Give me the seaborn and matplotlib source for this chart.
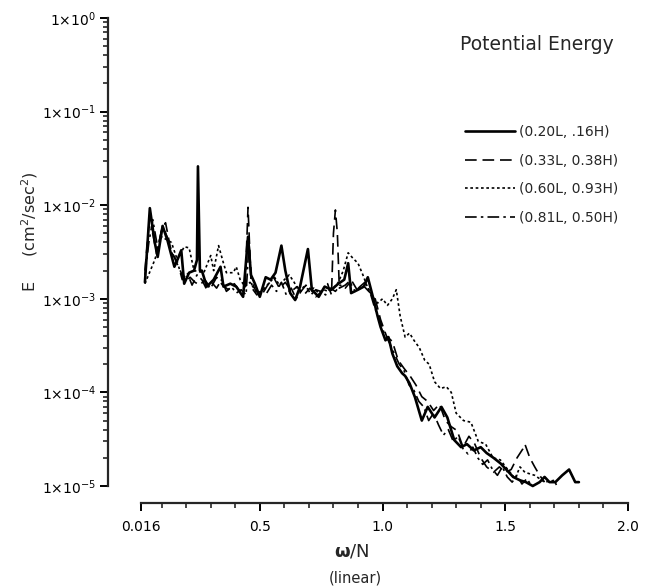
import numpy as np
import pandas as pd
import matplotlib
matplotlib.use("Agg")
import matplotlib.pyplot as plt
import seaborn as sns
from matplotlib.ticker import FixedLocator, NullFormatter, FixedFormatter

# ---- data (omega/N, E in cm^2/sec^2) ----
w_a = [0.032, 0.052, 0.072, 0.084, 0.104, 0.124, 0.152, 0.164, 0.180, 0.192, 0.212, 0.232, 0.244,
       0.248, 0.256, 0.264, 0.284, 0.312, 0.340, 0.352, 0.380, 0.404, 0.432, 0.452, 0.464, 0.480,
       0.500, 0.524, 0.544, 0.564, 0.588, 0.604, 0.624, 0.644, 0.664, 0.696, 0.712, 0.740, 0.764,
       0.792, 0.820, 0.844, 0.860, 0.872, 0.900, 0.924, 0.940, 0.964, 0.980, 0.992, 1.012, 1.024,
       1.040, 1.060, 1.080, 1.092, 1.110, 1.132, 1.160, 1.184, 1.212, 1.240, 1.264, 1.292, 1.320,
       1.344, 1.372, 1.400, 1.424, 1.452, 1.480, 1.504, 1.532, 1.560, 1.584, 1.612, 1.640, 1.660,
       1.680, 1.704, 1.732, 1.760, 1.785, 1.800]
e_a = [1.5e-3, 9.3e-3, 4.0e-3, 2.8e-3, 6.0e-3, 4.2e-3, 2.2e-3, 2.6e-3, 3.3e-3, 1.45e-3, 1.9e-3, 2.0e-3, 2.6e-3,
       2.6e-2, 2.0e-3, 2.0e-3, 1.35e-3, 1.6e-3, 2.2e-3, 1.35e-3, 1.45e-3, 1.35e-3, 1.05e-3, 4.6e-3, 1.8e-3, 1.45e-3,
       1.05e-3, 1.7e-3, 1.6e-3, 1.9e-3, 3.7e-3, 2.0e-3, 1.15e-3, 9.7e-4, 1.35e-3, 3.4e-3, 1.25e-3, 1.05e-3, 1.35e-3,
       1.25e-3, 1.45e-3, 1.6e-3, 2.4e-3, 1.15e-3, 1.25e-3, 1.35e-3, 1.7e-3, 9.7e-4, 6.5e-4, 5.0e-4, 3.6e-4, 3.9e-4,
       2.6e-4, 1.9e-4, 1.6e-4, 1.5e-4, 1.25e-4, 8.9e-5, 5.0e-5, 7.0e-5, 5.4e-5, 7.0e-5, 5.4e-5, 3.1e-5, 2.6e-5,
       2.8e-5, 2.4e-5, 2.6e-5, 2.25e-5, 2.0e-5, 1.75e-5, 1.5e-5, 1.25e-5, 1.15e-5, 1.1e-5, 1.0e-5, 1.1e-5, 1.25e-5,
       1.1e-5, 1.1e-5, 1.3e-5, 1.5e-5, 1.1e-5, 1.1e-5]

w_b = [0.032, 0.048, 0.064, 0.080, 0.100, 0.116, 0.136, 0.156, 0.176, 0.196, 0.216, 0.236, 0.256, 0.276,
       0.300, 0.324, 0.348, 0.372, 0.396, 0.420, 0.440, 0.452, 0.464, 0.484, 0.508, 0.532, 0.556, 0.580,
       0.604, 0.628, 0.652, 0.680, 0.704, 0.728, 0.752, 0.776, 0.792, 0.800, 0.808, 0.816, 0.824, 0.848,
       0.872, 0.896, 0.920, 0.944, 0.968, 0.992, 1.016, 1.040, 1.064, 1.088, 1.112, 1.136, 1.160, 1.184,
       1.208, 1.232, 1.256, 1.280, 1.304, 1.328, 1.352, 1.376, 1.400, 1.424, 1.452, 1.476, 1.500, 1.524,
       1.548, 1.572, 1.580, 1.600, 1.620, 1.640, 1.660]
e_b = [2.0e-3, 6.0e-3, 5.0e-3, 3.0e-3, 5.5e-3, 6.5e-3, 3.5e-3, 2.6e-3, 2.0e-3, 1.5e-3, 1.7e-3, 1.5e-3, 1.4e-3, 1.6e-3,
       1.3e-3, 1.7e-3, 1.4e-3, 1.25e-3, 1.45e-3, 1.2e-3, 1.3e-3, 9.5e-3, 1.6e-3, 1.2e-3, 1.1e-3, 1.4e-3, 1.7e-3, 1.3e-3,
       1.5e-3, 1.2e-3, 1.35e-3, 1.1e-3, 1.3e-3, 1.05e-3, 1.2e-3, 1.45e-3, 1.1e-3, 5.0e-3, 8.9e-3, 5.0e-3, 1.3e-3, 1.4e-3,
       1.6e-3, 1.25e-3, 1.4e-3, 1.2e-3, 1.05e-3, 6.0e-4, 4.0e-4, 3.5e-4, 2.2e-4, 1.8e-4, 1.5e-4, 1.2e-4, 9.0e-5, 8.0e-5,
       6.4e-5, 7.5e-5, 5.0e-5, 4.3e-5, 3.9e-5, 2.6e-5, 3.4e-5, 2.8e-5, 2.0e-5, 1.6e-5, 1.4e-5, 1.6e-5, 1.4e-5, 1.5e-5,
       2.0e-5, 2.5e-5, 2.8e-5, 2.0e-5, 1.6e-5, 1.3e-5, 1.1e-5]

w_c = [0.032, 0.072, 0.100, 0.140, 0.164, 0.192, 0.212, 0.232, 0.272, 0.300, 0.312, 0.332, 0.352, 0.364,
       0.392, 0.404, 0.420, 0.440, 0.460, 0.480, 0.500, 0.520, 0.540, 0.560, 0.580, 0.600, 0.620, 0.640,
       0.660, 0.680, 0.700, 0.720, 0.740, 0.760, 0.780, 0.800, 0.820, 0.840, 0.860, 0.880, 0.900, 0.920,
       0.940, 0.960, 0.980, 1.000, 1.020, 1.040, 1.056, 1.072, 1.092, 1.110, 1.128, 1.150, 1.172, 1.190,
       1.212, 1.236, 1.260, 1.280, 1.300, 1.330, 1.360, 1.390, 1.420, 1.450, 1.480, 1.510, 1.540, 1.560,
       1.580, 1.620, 1.660, 1.700, 1.710]
e_c = [1.45e-3, 2.6e-3, 4.6e-3, 4.0e-3, 2.6e-3, 3.6e-3, 3.5e-3, 2.0e-3, 1.9e-3, 2.9e-3, 2.0e-3, 3.7e-3, 2.4e-3, 1.9e-3,
       1.9e-3, 2.2e-3, 1.6e-3, 1.35e-3, 1.5e-3, 1.25e-3, 1.15e-3, 1.3e-3, 1.5e-3, 1.7e-3, 1.4e-3, 1.6e-3, 1.8e-3, 1.5e-3,
       1.2e-3, 1.35e-3, 1.25e-3, 1.3e-3, 1.15e-3, 1.25e-3, 1.2e-3, 1.3e-3, 1.5e-3, 2.0e-3, 3.1e-3, 2.7e-3, 2.4e-3, 1.8e-3,
       1.3e-3, 1.05e-3, 9.0e-4, 1.0e-3, 8.5e-4, 1.0e-3, 1.25e-3, 6.5e-4, 3.9e-4, 4.3e-4, 3.6e-4, 3.0e-4, 2.2e-4, 2.0e-4,
       1.3e-4, 1.1e-4, 1.15e-4, 1.0e-4, 6.0e-5, 5.0e-5, 4.8e-5, 3.0e-5, 2.8e-5, 2.0e-5, 1.9e-5, 1.5e-5, 1.2e-5, 1.6e-5,
       1.4e-5, 1.3e-5, 1.1e-5, 1.15e-5, 1.0e-5]

w_d = [0.032, 0.048, 0.064, 0.084, 0.104, 0.124, 0.144, 0.164, 0.184, 0.204, 0.224, 0.244, 0.264, 0.284,
       0.304, 0.324, 0.344, 0.364, 0.384, 0.404, 0.424, 0.444, 0.456, 0.468, 0.488, 0.508, 0.528, 0.548,
       0.568, 0.588, 0.608, 0.628, 0.648, 0.668, 0.688, 0.708, 0.728, 0.748, 0.768, 0.788, 0.808, 0.828,
       0.848, 0.868, 0.888, 0.908, 0.928, 0.948, 0.968, 0.988, 1.008, 1.028, 1.048, 1.068, 1.088, 1.108,
       1.128, 1.148, 1.168, 1.188, 1.208, 1.228, 1.248, 1.268, 1.288, 1.308, 1.328, 1.348, 1.368, 1.388,
       1.408, 1.428, 1.448, 1.468, 1.488, 1.508, 1.528, 1.548, 1.568, 1.588, 1.608]
e_d = [1.8e-3, 4.0e-3, 7.0e-3, 3.5e-3, 6.0e-3, 4.5e-3, 3.0e-3, 2.5e-3, 1.6e-3, 1.9e-3, 1.4e-3, 1.8e-3, 1.6e-3, 1.25e-3,
       1.5e-3, 1.3e-3, 1.6e-3, 1.2e-3, 1.35e-3, 1.15e-3, 1.25e-3, 1.1e-3, 4.0e-3, 1.3e-3, 1.1e-3, 1.3e-3, 1.15e-3, 1.4e-3,
       1.2e-3, 1.5e-3, 1.1e-3, 1.3e-3, 1.0e-3, 1.2e-3, 1.4e-3, 1.1e-3, 1.25e-3, 1.2e-3, 1.1e-3, 1.3e-3, 1.2e-3, 1.4e-3,
       1.3e-3, 1.5e-3, 1.2e-3, 1.35e-3, 1.5e-3, 1.2e-3, 8.0e-4, 6.0e-4, 4.2e-4, 3.4e-4, 2.6e-4, 2.0e-4, 1.7e-4, 1.2e-4,
       1.05e-4, 8.0e-5, 7.0e-5, 5.0e-5, 6.0e-5, 4.5e-5, 3.5e-5, 4.0e-5, 3.0e-5, 3.4e-5, 2.5e-5, 2.2e-5, 2.6e-5, 2.0e-5,
       1.7e-5, 1.9e-5, 1.5e-5, 1.3e-5, 1.6e-5, 1.25e-5, 1.1e-5, 1.3e-5, 1.05e-5, 1.2e-5, 1.0e-5]

labels = ["(0.20L, .16H)", "(0.33L, 0.38H)", "(0.60L, 0.93H)", "(0.81L, 0.50H)"]
x_major = [0.016, 0.5, 1.0, 1.5, 2.0]
x_major_labels = ["0.016", "0.5", "1.0", "1.5", "2.0"]
x_minor = [0.1, 0.2, 0.3, 0.4, 0.6, 0.7, 0.8, 0.9, 1.1, 1.2, 1.3, 1.4, 1.6, 1.7, 1.8, 1.9]
y_major = [1e-5, 1e-4, 1e-3, 1e-2, 1e-1, 1e0]
y_major_labels = [r"$1{\times}10^{-5}$", r"$1{\times}10^{-4}$", r"$1{\times}10^{-3}$",
                  r"$1{\times}10^{-2}$", r"$1{\times}10^{-1}$", r"$1{\times}10^{0}$"]

series = [(w_a, e_a), (w_b, e_b), (w_c, e_c), (w_d, e_d)]
styles = [dict(linestyle="-", linewidth=1.9),
          dict(linestyle=(0, (7, 3.5)), linewidth=1.2),
          dict(linestyle=(0, (1.6, 1.6)), linewidth=1.2),
          dict(linestyle=(0, (7, 2.5, 1.5, 2.5)), linewidth=1.2)]

sns.set_style("ticks")
plt.rcParams["font.family"] = ["DejaVu Sans"]
plt.rcParams["mathtext.fontset"] = "dejavusans"

W, H = 646, 588
fig = plt.figure(figsize=(W / 100, H / 100), dpi=100)
fig.patch.set_facecolor("white")
ax_left, ax_right, ax_top, ax_bot = 108, 628, 18, 503
ax = fig.add_axes([ax_left / W, 1 - ax_bot / H, (ax_right - ax_left) / W, (ax_bot - ax_top) / H])

for (w, e), lab, st in zip(series, labels, styles):
    df = pd.DataFrame({"w": w, "E": e})
    sns.lineplot(data=df, x="w", y="E", ax=ax, color="black", label=lab,
                 sort=False, estimator=None, **st)

ax.set_yscale("log")
px_per_unit = (ax_right - 141) / (2.0 - 0.016)
xmin = 0.016 - (141 - ax_left) / px_per_unit
ax.set_xlim(xmin, 2.0)
dec_px = 93.6
ymin_log = -(ax_bot - ax_top) / dec_px
ax.set_ylim(10 ** ymin_log, 1.0)

sns.despine(ax=ax)
ax.spines["left"].set_bounds(1e-5, 1e0)
ax.spines["bottom"].set_bounds(0.016, 2.0)
ax.spines["left"].set_linewidth(1.6)
ax.spines["bottom"].set_linewidth(1.6)

y_minor = [k * 10.0 ** n for n in range(-5, 0) for k in range(2, 10)]
ax.xaxis.set_major_locator(FixedLocator(x_major))
ax.xaxis.set_major_formatter(FixedFormatter(x_major_labels))
ax.xaxis.set_minor_locator(FixedLocator(x_minor))
ax.yaxis.set_major_locator(FixedLocator(y_major))
ax.yaxis.set_major_formatter(FixedFormatter(y_major_labels))
ax.yaxis.set_minor_locator(FixedLocator(y_minor))
ax.yaxis.set_minor_formatter(NullFormatter())
ax.tick_params(axis="both", which="major", direction="out", length=6, width=1.4,
               labelsize=10, colors="black", pad=3)
ax.tick_params(axis="both", which="minor", direction="out", length=3.5, width=1.2)
ax.tick_params(axis="x", which="major", pad=6)
ax.set_xlabel("")
ax.set_ylabel("")

leg = ax.legend(loc="upper left", bbox_to_anchor=(458 / W, 1 - 118 / H),
                bbox_transform=fig.transFigure, frameon=False, fontsize=10,
                handlelength=3.6, handletextpad=0.3, labelspacing=1.05, borderpad=0)

fig.text(537 / W, 1 - 45 / H, "Potential Energy", fontsize=13.5, ha="center", va="center")
fig.text(30 / W, 1 - 232 / H, r"E     (cm$^2$/sec$^2$)", fontsize=11.5, rotation=90,
         ha="center", va="center")
fig.text(352 / W, 1 - 551 / H, r"$\mathbf{\omega}$/N", fontsize=13, ha="center", va="center")
fig.text(355 / W, 1 - 578 / H, "(linear)", fontsize=10.5, ha="center", va="center")

fig.savefig("out.png", dpi=100, facecolor="white")
